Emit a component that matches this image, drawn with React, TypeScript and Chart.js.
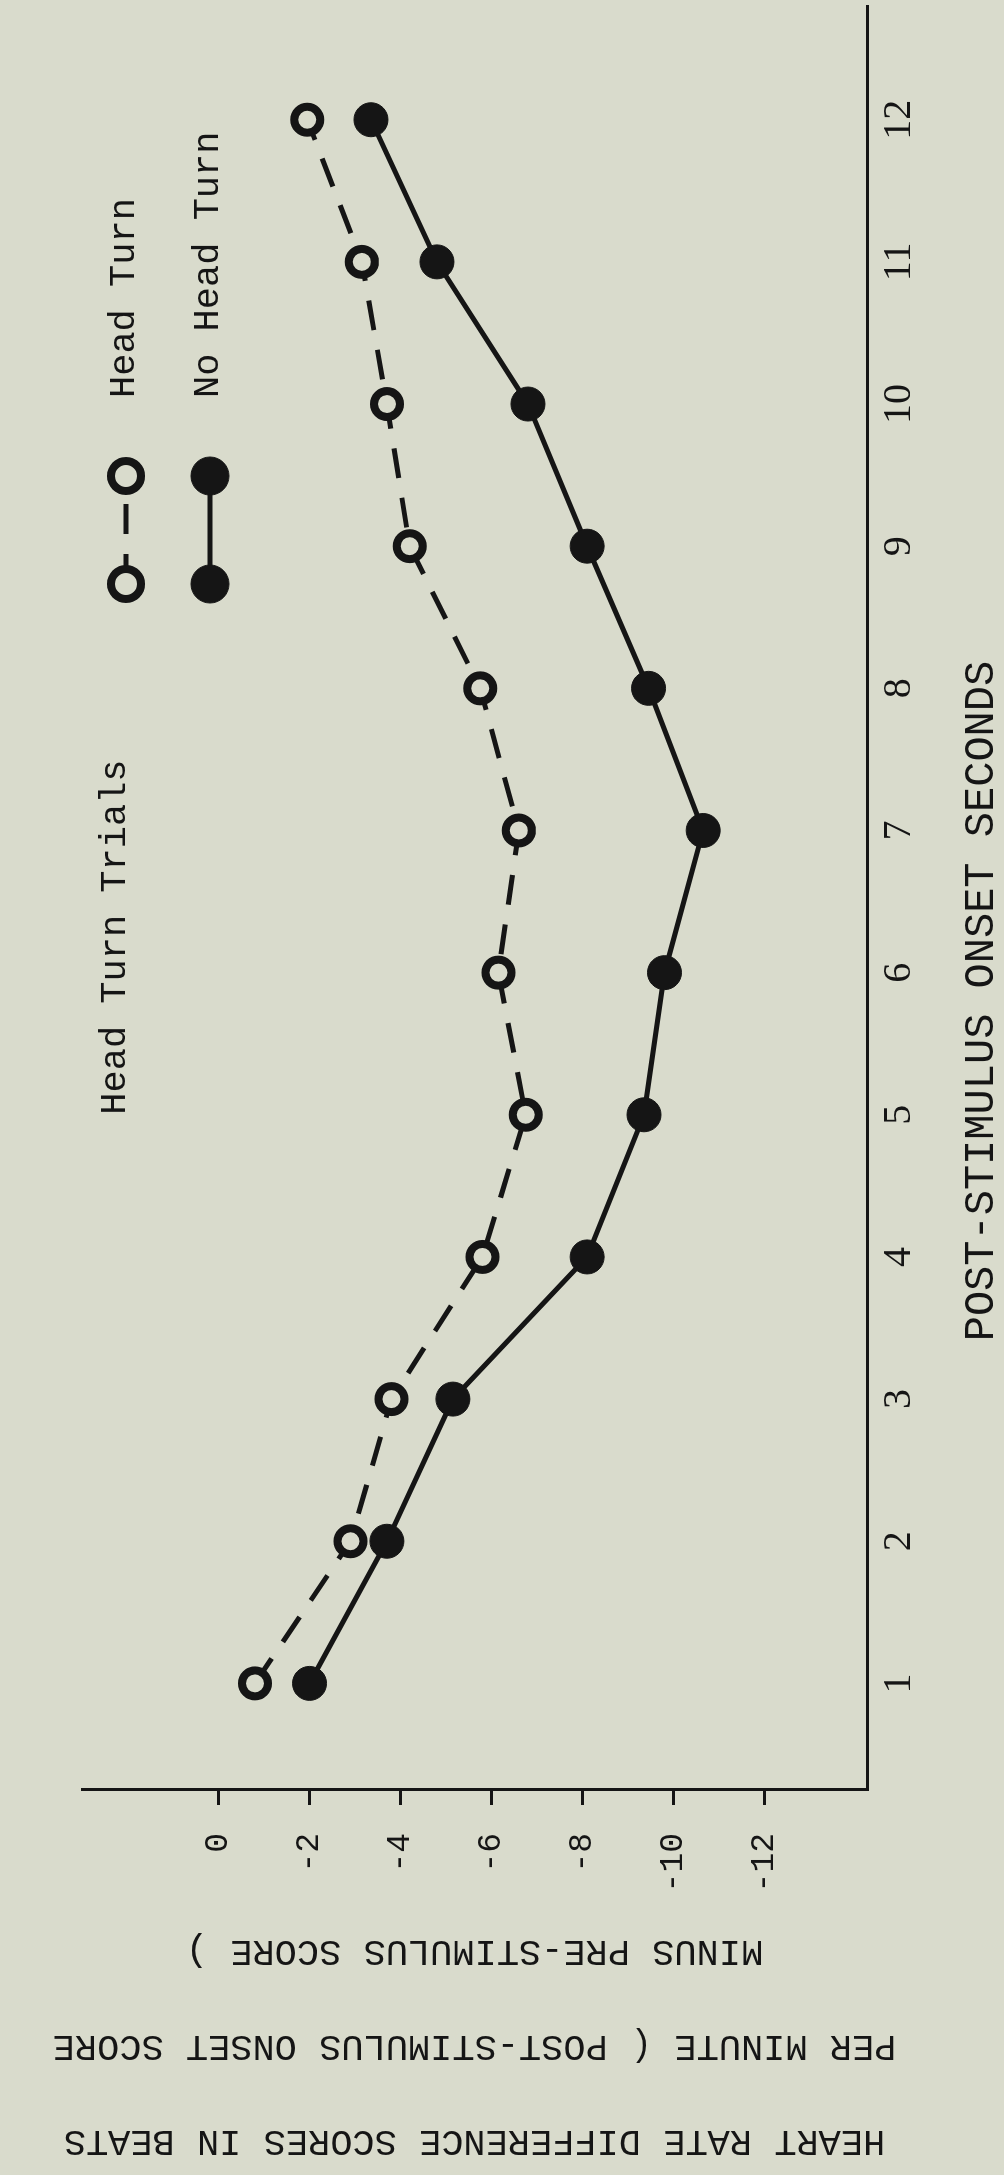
import React, { useEffect, useRef } from 'react';
import { Chart, registerables } from 'chart.js';

Chart.register(...registerables);

// ---- data ----
const SECONDS = [1, 2, 3, 4, 5, 6, 7, 8, 9, 10, 11, 12];
const HEAD_TURN = [-0.8, -2.9, -3.8, -5.8, -6.75, -6.15, -6.6, -5.75, -4.2, -3.7, -3.15, -1.95];
const NO_HEAD_TURN = [-2.0, -3.7, -5.15, -8.1, -9.35, -9.8, -10.65, -9.45, -8.1, -6.8, -4.8, -3.35];
const Y_TICKS = [0, -2, -4, -6, -8, -10, -12];
const SERIES_NAMES = ['Head Turn', 'No Head Turn'];
const TITLE = 'Head Turn Trials';
const X_TITLE = 'POST-STIMULUS ONSET SECONDS';
const Y_TITLE_LINES = [
  'HEART RATE DIFFERENCE SCORES IN BEATS',
  'PER MINUTE ( POST-STIMULUS ONSET SCORE',
  'MINUS PRE-STIMULUS SCORE )',
];

const BG = '#d9dbcc';
const INK = '#151515';
const MONO = '"Liberation Mono", "DejaVu Sans Mono", monospace';
const SERIF = '"Liberation Serif", "DejaVu Serif", serif';

// canvas is drawn in the page's original (landscape) orientation, then turned
const W = 2175;
const H = 1004;

const paperText = {
  id: 'paperText',
  afterDraw(chart: any) {
    const { ctx, chartArea, scales } = chart;
    const xs = scales.x;
    ctx.save();
    ctx.fillStyle = INK;
    ctx.font = `37px ${MONO}`;

    // graph title
    ctx.textAlign = 'center';
    ctx.textBaseline = 'alphabetic';
    ctx.fillText(TITLE, xs.getPixelForValue(6.25), chartArea.top + 43);

    // x axis title
    ctx.font = `42px ${MONO}`;
    ctx.fillText(X_TITLE, xs.getPixelForValue(5.8), chartArea.bottom + 126);

    // y axis title (three lines, reading bottom to top)
    ctx.font = `37px ${MONO}`;
    const cy = (chartArea.top + chartArea.bottom) / 2;
    Y_TITLE_LINES.forEach((line, i) => {
      ctx.save();
      ctx.translate(chartArea.left - 341 + i * 95, cy);
      ctx.rotate(-Math.PI / 2);
      ctx.fillText(line, 0, 0);
      ctx.restore();
    });

    // legend: circle - line - circle, then the name
    const metas = chart.data.datasets;
    const rowsY = [chartArea.top + 44, chartArea.top + 128];
    const x1 = chartArea.right - 578;
    const x2 = chartArea.right - 470;
    const tx = chartArea.right - 392;
    metas.forEach((ds: any, i: number) => {
      const yy = rowsY[i];
      ctx.save();
      ctx.strokeStyle = ds.borderColor;
      ctx.lineWidth = ds.borderWidth;
      ctx.setLineDash(ds.borderDash || []);
      ctx.beginPath();
      ctx.moveTo(x1, yy);
      ctx.lineTo(x2, yy);
      ctx.stroke();
      ctx.setLineDash([]);
      [x1, x2].forEach((px) => {
        ctx.beginPath();
        ctx.arc(px, yy, ds.pointRadius + 2, 0, Math.PI * 2);
        ctx.fillStyle = ds.pointBackgroundColor;
        ctx.fill();
        ctx.lineWidth = ds.pointBorderWidth;
        ctx.strokeStyle = ds.pointBorderColor;
        ctx.stroke();
      });
      ctx.restore();
      ctx.textAlign = 'left';
      ctx.fillText(SERIES_NAMES[i], tx, yy + 8);
    });
    ctx.restore();
  },
};

export default function App() {
  const ref = useRef<HTMLCanvasElement | null>(null);

  useEffect(() => {
    document.body.style.margin = '0';
    document.body.style.background = BG;
    const canvas = ref.current;
    if (!canvas) return;
    const chart = new Chart(canvas, {
      type: 'line',
      data: {
        datasets: [
          {
            label: SERIES_NAMES[0],
            data: SECONDS.map((s, i) => ({ x: s, y: HEAD_TURN[i] })),
            borderColor: INK,
            borderWidth: 5,
            borderDash: [30, 20],
            pointRadius: 13,
            pointBorderWidth: 8,
            pointBackgroundColor: BG,
            pointBorderColor: INK,
            fill: false,
            tension: 0,
          },
          {
            label: SERIES_NAMES[1],
            data: SECONDS.map((s, i) => ({ x: s, y: NO_HEAD_TURN[i] })),
            borderColor: INK,
            borderWidth: 5,
            pointRadius: 17,
            pointBorderWidth: 1,
            pointBackgroundColor: INK,
            pointBorderColor: INK,
            fill: false,
            tension: 0,
          },
        ],
      },
      options: {
        responsive: false,
        animation: false,
        devicePixelRatio: 1,
        layout: { autoPadding: false, padding: { top: 82, right: 6, bottom: 0, left: 0 } },
        plugins: {
          legend: { display: false },
          tooltip: { enabled: false },
          title: { display: false },
        },
        scales: {
          x: {
            type: 'linear',
            position: 'bottom',
            min: 0.25,
            max: 12.8,
            afterBuildTicks: (scale: any) => {
              scale.ticks = SECONDS.map((v) => ({ value: v }));
            },
            afterFit: (scale: any) => {
              scale.height = 137;
            },
            grid: { display: true, drawOnChartArea: false, drawTicks: false },
            border: { display: true, color: INK, width: 3 },
            ticks: {
              color: INK,
              font: { family: SERIF, size: 40 },
              padding: 8,
              maxRotation: 0,
              autoSkip: false,
              callback: (v: any) => String(v),
            },
          },
          y: {
            type: 'linear',
            position: 'left',
            min: -14.25,
            max: 3,
            afterBuildTicks: (scale: any) => {
              scale.ticks = Y_TICKS.map((v) => ({ value: v }));
            },
            afterFit: (scale: any) => {
              scale.width = 385;
            },
            grid: {
              display: true,
              drawOnChartArea: false,
              drawTicks: true,
              tickLength: 15,
              tickColor: INK,
              tickWidth: 3,
            },
            border: { display: true, color: INK, width: 3 },
            ticks: {
              color: INK,
              font: { family: MONO, size: 33 },
              padding: 28,
              autoSkip: false,
              callback: (v: any) => String(v),
            },
          },
        },
      },
      plugins: [paperText],
    } as any);
    return () => chart.destroy();
  }, []);

  return (
    <div
      style={{
        position: 'absolute',
        left: 0,
        top: 0,
        width: H,
        height: W,
        overflow: 'hidden',
        background: BG,
      }}
    >
      <canvas
        ref={ref}
        width={W}
        height={H}
        style={{
          position: 'absolute',
          left: 0,
          top: 0,
          width: W,
          height: H,
          transformOrigin: '0 0',
          transform: `translateY(${W}px) rotate(-90deg)`,
        }}
      />
    </div>
  );
}
